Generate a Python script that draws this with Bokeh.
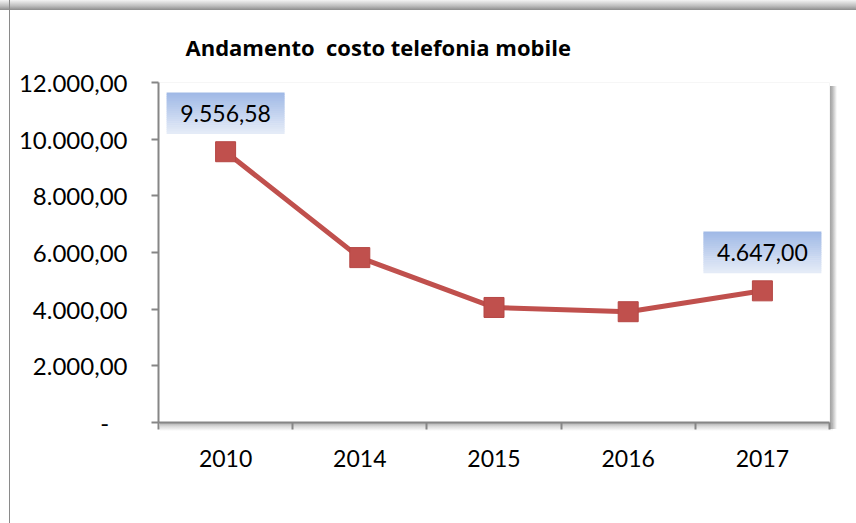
from bokeh.plotting import figure
from bokeh.models import Range1d, FixedTicker
from bokeh.core.properties import value
from bokeh.embed import file_html
from bokeh.resources import INLINE

# ---- data ----
years = ["2010", "2014", "2015", "2016", "2017"]
costs = [9556.58, 5820.0, 4060.0, 3910.0, 4647.00]
labelled = [0, 4]  # indices of points carrying a data label
y_ticks = [0, 2000, 4000, 6000, 8000, 10000, 12000]
title_text = "Andamento  costo telefonia mobile"

FONT = "Lato"
RED = "#c0504d"
AXIS = "#868686"


def fmt(v):
    if v == 0:
        return "-\u00a0\u00a0\u00a0"
    s = f"{v:,.2f}"
    return s.replace(",", "X").replace(".", ",").replace("X", ".")


W, H = 856, 523
ML, MR, MT, MB = 158, 27, 82, 101
FW, FH = W - ML - MR, H - MT - MB
YMAX = 12000.0
upp = YMAX / FH           # data units per pixel (y)

p = figure(width=W, height=H, output_backend="svg", toolbar_location=None,
           x_range=Range1d(0, len(years)), y_range=Range1d(0, YMAX),
           min_border_left=ML, min_border_right=MR,
           min_border_top=MT, min_border_bottom=MB)

# chart-area decoration (outer border, top shadow, plot-area shadow) as CSS background
R = ML + FW   # right edge of plot area
B = MT + FH   # bottom edge of plot area
p.styles = {
    "background": ", ".join([
        f"linear-gradient(to right, #9a9a9a, #b5b5b5 40%, rgba(255,255,255,0)) {R}px {MT + 4}px / 8px {FH + 3}px no-repeat",
        f"linear-gradient(to bottom, #b0b0b0, #d8d8d8 40%, rgba(255,255,255,0)) {ML + 2}px {B + 1}px / {FW + 2}px 8px no-repeat",
        "linear-gradient(to right, rgba(0,0,0,0) 9px, #8a8a8a 9px, #8a8a8a 10px, rgba(0,0,0,0) 10px)",
        "linear-gradient(to bottom, #f4f4f4 0px, #bdbdbd 6px, #8c8c8c 10px, #ffffff 10px, #ffffff 100%)",
    ]),
}
p.xgrid.visible = False
p.ygrid.visible = False
p.outline_line_color = "#f6f6f6"
p.background_fill_color = "white"
p.border_fill_alpha = 0

# title
p.title.text = title_text.replace("  ", " \u00a0")
p.title.align = "left"
p.title.offset = 27
p.title.text_font = "Open Sans"
p.title.text_font_size = "22px"
p.title.text_font_style = "bold"
p.title.text_color = "black"
p.title.standoff = 38
p.title.vertical_align = "top"

xs = [i + 0.5 for i in range(len(years))]

# axes
xa = p.xaxis[0]
xa.ticker = FixedTicker(ticks=xs, minor_ticks=list(range(len(years) + 1)))
xa.major_label_overrides = {x: y for x, y in zip(xs, years)}
xa.major_tick_out = 0
xa.major_tick_in = 0
xa.minor_tick_out = 7
xa.minor_tick_in = 0
xa.minor_tick_line_color = AXIS
xa.minor_tick_line_width = 2
xa.axis_line_color = AXIS
xa.axis_line_width = 2
xa.major_label_standoff = 20
xa.major_label_text_font = FONT
xa.major_label_text_font_size = "23px"
xa.major_label_text_color = "black"

ya = p.yaxis[0]
ya.ticker = FixedTicker(ticks=y_ticks, minor_ticks=[])
ya.major_label_overrides = {t: fmt(t) for t in y_ticks}
ya.major_tick_out = 7
ya.major_tick_in = 0
ya.major_tick_line_color = AXIS
ya.major_tick_line_width = 2
ya.axis_line_color = AXIS
ya.axis_line_width = 2
ya.major_label_standoff = 24
ya.major_label_text_font = FONT
ya.major_label_text_font_size = "24px"
ya.major_label_text_color = "black"

# line + markers
p.line(xs, costs, line_color=RED, line_width=5)
p.scatter(xs, costs, marker="square", size=20, fill_color=RED,
          line_color="#b54744", line_width=1)

# data labels with vertical blue gradient box
BOX_W, BOX_H, GAP = 118, 41, 38.5
N = 20
top_c = (0xa0, 0xb9, 0xe6)
bot_c = (0xe4, 0xeb, 0xf7)
for i in labelled:
    cx, cy = xs[i], costs[i] + GAP * upp
    h = BOX_H / N
    for s in range(N):
        t = s / (N - 1)
        col = "#%02x%02x%02x" % tuple(round(a + (b - a) * t) for a, b in zip(top_c, bot_c))
        off = BOX_H / 2 - (s + 0.5) * h
        p.rect(x=[cx], y=[cy + off * upp], width=BOX_W, height=h + 0.6,
               width_units="screen", height_units="screen",
               fill_color=col, line_color=None)
    p.text(x=[cx], y=[cy], text=[fmt(costs[i])], text_align="center",
           text_baseline="middle", text_font=value(FONT),
           text_font_size="23px", text_color="black")

open("out.html", "w").write(file_html(p, INLINE))
